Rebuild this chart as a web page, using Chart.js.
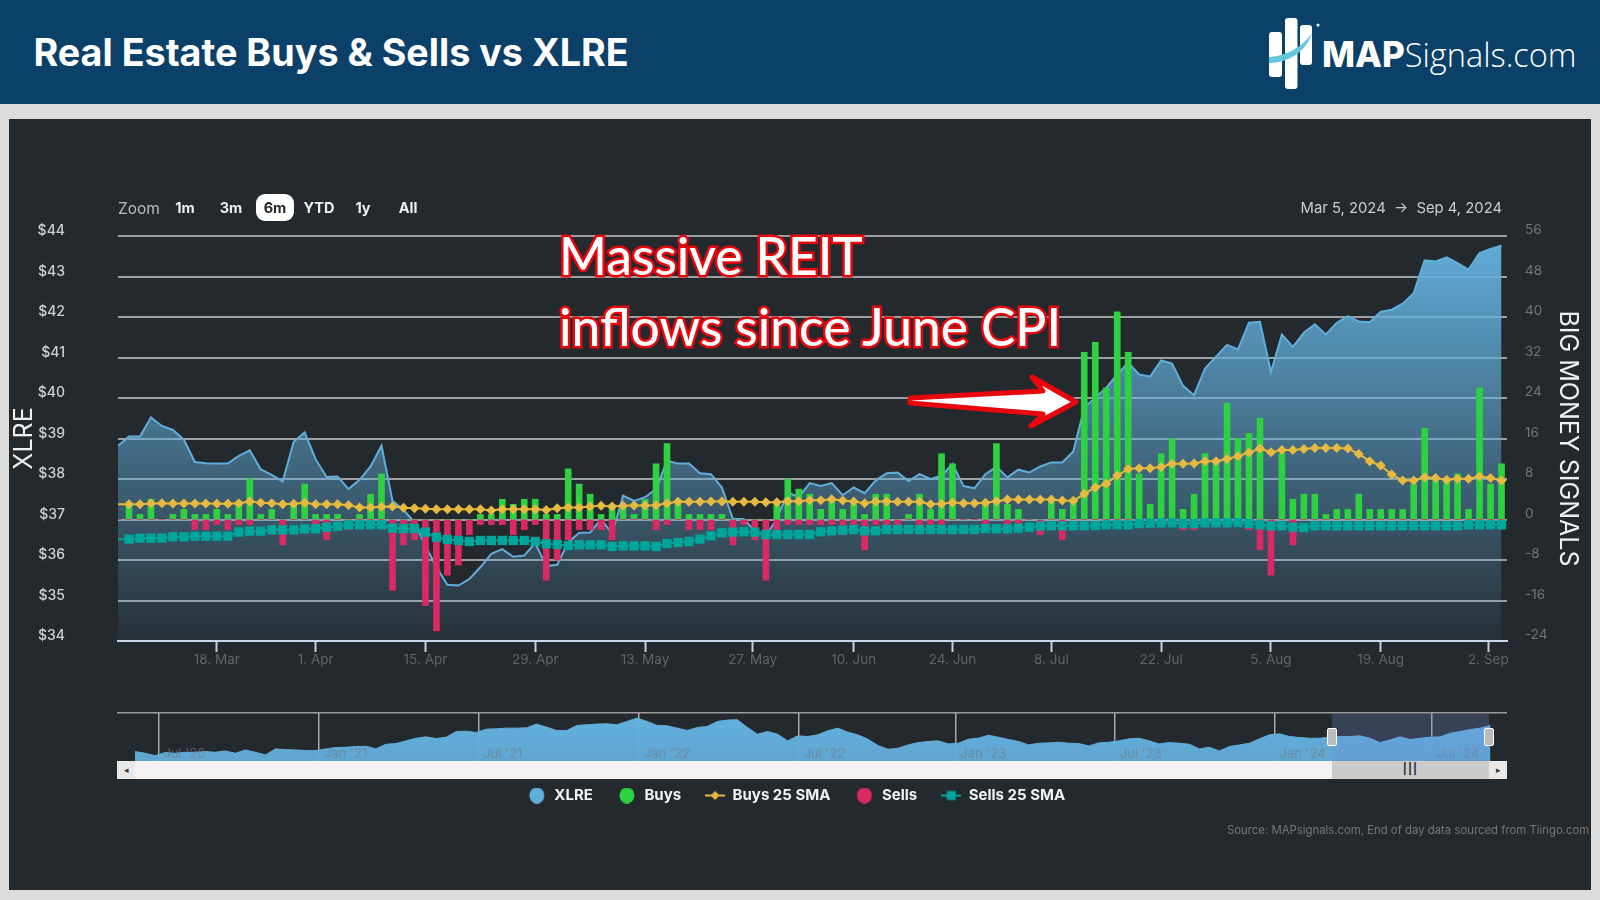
<!DOCTYPE html>
<html><head><meta charset="utf-8">
<script src="https://cdn.jsdelivr.net/npm/chart.js@4"></script>
<style>
html,body{margin:0;padding:0;background:#dcdcdc;width:1600px;height:900px;overflow:hidden;font-family:Inter,sans-serif}
.abs{position:absolute}
#hdr{left:0;top:0;width:1600px;height:104px;background:#0b4069}
#ttl{left:33.5px;top:29px;font:700 37.7px Inter;color:#fff;white-space:nowrap}
#panel{left:9px;top:119px;width:1582px;height:771px;background:#24292e}
canvas{position:absolute;left:0}
.z{top:199px;font:700 14.5px Inter;color:#eee;transform:translateX(-50%);white-space:nowrap}
.ann{left:559px;font:500 51.5px Lato;color:#fff;white-space:nowrap;-webkit-text-stroke:5px #e8070d;paint-order:stroke fill}
</style></head><body>
<div class="abs" id="hdr"></div>
<div class="abs" id="ttl">Real Estate Buys &amp; Sells vs XLRE</div>
<svg class="abs" style="left:1260px;top:10px" width="70" height="84" viewBox="1260 10 70 84">
<rect x="1269" y="32" width="13" height="45" rx="3" fill="#fff"/><rect x="1285" y="18" width="12.5" height="71" rx="3" fill="#fff"/><rect x="1300" y="25" width="12" height="40" rx="3" fill="#fff"/>
<path d="M1269 57C1285 56 1302 48 1312 33C1306 52 1288 63 1269 63Z" fill="#62c6dc"/><circle cx="1318" cy="25" r="1.6" fill="#fff"/></svg>
<div class="abs" style="left:1322px;top:32px;font:800 35px Inter;color:#fff;white-space:nowrap">MAP<span style="font:300 32.5px 'Open Sans';margin-left:0">Signals.com</span></div>
<div class="abs" id="panel"></div>
<canvas id="main" width="1600" height="813" style="top:0;width:1600px;height:813px"></canvas>
<canvas id="nav" width="1600" height="61" style="top:700px;width:1600px;height:61px"></canvas>
<div class="abs" id="navsel" style="left:1332px;top:714px;width:157px;height:47px;background:rgba(110,140,215,.25)"></div>
<div class="abs" style="left:117px;top:761px;width:1390px;height:18px;background:#f2f2f2"></div>
<div class="abs" style="left:117px;top:761px;width:18px;height:18px;background:#e8e8e8;text-align:center;font:9px/18px sans-serif;color:#333">◂</div>
<div class="abs" style="left:1332px;top:761px;width:157px;height:18px;background:#cbcbcb;text-align:center;font:700 11px/17px Inter;color:#333;letter-spacing:1px">|||</div>
<div class="abs" style="left:1489px;top:761px;width:18px;height:18px;background:#e8e8e8;text-align:center;font:9px/18px sans-serif;color:#333">▸</div>
<div class="abs" style="left:1327px;top:728px;width:8px;height:16px;background:#bbb;border:1.5px solid #fff;border-radius:2px"></div>
<div class="abs" style="left:1484px;top:728px;width:8px;height:16px;background:#bbb;border:1.5px solid #fff;border-radius:2px"></div>
<div class="abs" style="left:118px;top:199px;font:400 15.5px Inter;color:#bbb">Zoom</div>
<div class="abs" style="left:256px;top:194px;width:38px;height:27px;background:#fff;border-radius:9px"></div>
<div class="abs z" style="left:185px">1m</div><div class="abs z" style="left:231px">3m</div>
<div class="abs z" style="left:275px;color:#24292e">6m</div><div class="abs z" style="left:319px">YTD</div>
<div class="abs z" style="left:363px">1y</div><div class="abs z" style="left:408px">All</div>
<div class="abs" style="left:1290px;top:199px;width:212px;text-align:right;font:400 14.8px Inter;color:#ccc;white-space:nowrap">Mar 5, 2024 &nbsp;→&nbsp; Sep 4, 2024</div>
<div class="abs ann" style="top:224px">Massive REIT</div>
<div class="abs ann" style="top:295px">inflows since June CPI</div>
<svg class="abs" style="left:0;top:0" width="1600" height="900" pointer-events="none">
<polygon points="910,398 1043,391 1032,377 1076,402 1031,426 1043,414 910,403" fill="#fff" stroke="#e8070d" stroke-width="5" stroke-linejoin="round"/></svg>
<div class="abs" style="left:1227px;top:823px;width:362px;text-align:right;font:400 11.35px Inter;color:#777;white-space:nowrap">Source: MAPsignals.com, End of day data sourced from Tiingo.com</div>
<script>
const tickLabels=["18. Mar","1. Apr","15. Apr","29. Apr","13. May","27. May","10. Jun","24. Jun","8. Jul","22. Jul","5. Aug","19. Aug","2. Sep"];
const tickPositions=[9,18,28,38,48,57.8,67,76,85,95,105,115,124.8];
const xlre=[38.82,39.05,39.05,39.52,39.31,39.21,38.97,38.42,38.39,38.38,38.38,38.57,38.71,38.24,38.10,37.94,38.92,39.15,38.49,38.05,38.06,37.75,37.98,38.31,38.82,37.46,37.24,36.93,36.35,35.82,35.39,35.37,35.53,35.82,36.15,36.27,36.08,36.11,36.42,35.85,
35.88,36.44,36.67,36.68,37.01,36.65,37.59,37.46,37.55,37.75,38.45,38.38,38.38,38.14,38.12,37.79,37.01,37.01,36.72,36.6,37.01,37.67,37.55,37.90,37.83,37.90,37.60,37.79,37.65,37.96,38.14,38.16,37.95,38.12,38.0,38.08,38.37,37.83,37.77,38.12,
38.3,38.04,38.23,38.16,38.31,38.41,38.41,38.68,39.76,40.01,40.25,40.58,40.87,40.58,40.53,40.93,40.85,40.30,40.07,40.73,41.02,41.31,41.20,41.86,41.88,40.64,41.57,41.26,41.61,41.82,41.57,41.86,42.02,41.89,41.87,42.13,42.18,42.33,42.59,43.40,43.37,43.47,43.33,43.17,43.58,43.68,43.76];
const buys=[0,3,1,4,0,1,2,1,1,2,1,3,8,1,2,0,3,7,1,1,1,0,1,5,9,0,0,0,0,0,0,0,0,1,1,4,3,4,4,1,
1,10,7,5,1,3,3,1,4,11,15,3,1,1,1,1,0,0,0,0,3,8,6,5,2,4,2,3,1,5,5,0,1,5,2,13,11,0,0,3,
15,3,2,0,0,4,2,4,33,35,26,41,33,9,3,13,16,2,5,13,11,23,16,17,20,0,13,4,5,5,1,2,2,5,2,2,2,2,7,18,8,8,9,2,26,7,11];
const sells=[0,0,0,0,0,0,0,-2,-2,-1,-2,-1,-1,0,0,-5,0,0,-1,-4,0,-2,0,0,0,-14,-5,-4,-17,-22,-11,-9,-3,-1,-1,-1,-3,-2,-1,-12,
-8,-4,-2,-2,-2,-4,0,0,0,-2,-1,0,-2,-2,-2,0,-5,-1,-4,-12,-2,-1,-1,-1,-1,-1,-3,-1,-6,-1,-1,-1,0,-1,-1,-1,0,0,0,-1,
0,-1,-1,0,-3,0,-4,0,0,0,0,0,0,0,0,0,0,-2,-2,0,0,0,0,-2,-6,-11,0,-5,0,0,0,0,0,0,0,0,0,0,0,0,0,0,0,0,0,0,0];
const buysSma=[3.03,3.03,3.03,3.16,3.22,3.16,3.16,3.16,3.16,3.09,3.09,3.22,3.55,3.29,3.22,3.03,3.09,3.29,3.03,3.03,3.03,2.83,2.37,2.37,2.5,2.57,2.3,2.24,2.1,2.04,2.04,2.04,2.04,2.04,1.78,2.04,2.04,2.04,2.04,1.9,
2.24,2.37,2.37,2.57,2.7,2.57,2.7,2.76,2.76,2.83,3.22,3.49,3.49,3.49,3.55,3.55,3.49,3.49,3.49,3.42,3.42,3.62,3.62,3.82,3.82,4.01,3.75,3.55,3.22,3.55,3.55,3.49,3.49,3.49,3.03,3.09,3.36,3.22,3.22,3.29,
3.6,3.95,3.95,3.95,3.95,3.95,3.75,3.68,5.07,6.32,7.04,8.68,10.0,10.13,10.13,10.39,10.99,10.99,11.05,11.5,11.5,11.97,12.5,13.22,14.01,13.29,13.75,13.75,13.95,14.14,14.14,14.14,14.01,12.96,11.5,10.66,8.88,7.7,7.7,8.36,8.22,7.83,8.03,8.03,8.49,8.22,7.7];
const sellsSma=[-3.88,-3.88,-3.68,-3.68,-3.68,-3.42,-3.42,-3.29,-3.29,-3.29,-3.29,-2.5,-2.3,-2.3,-2.04,-2.04,-2.04,-1.84,-1.84,-1.51,-1.32,-1.05,-1.05,-1.05,-1.05,-1.71,-1.78,-1.78,-2.5,-3.49,-3.95,-4.14,-4.34,-4.14,-4.14,-4.14,-4.14,-4.14,-4.34,-4.8,
-4.93,-5.13,-5.0,-5.0,-5.0,-5.33,-5.2,-5.2,-5.2,-5.33,-4.74,-4.54,-4.34,-3.88,-3.22,-2.63,-2.5,-2.43,-2.5,-2.96,-2.96,-2.96,-2.96,-2.96,-2.43,-2.24,-2.1,-1.97,-2.24,-2.24,-1.97,-1.97,-1.97,-1.97,-1.97,-1.97,-1.97,-1.97,-1.97,-1.78,
-1.84,-1.84,-1.7,-1.5,-1.3,-1.25,-1.25,-1.25,-1.25,-1.2,-1.05,-1.05,-1.05,-0.8,-0.72,-0.66,-0.66,-0.8,-0.8,-0.66,-0.66,-0.66,-0.6,-0.8,-1.05,-1.25,-1.25,-1.5,-1.58,-1.25,-1.25,-1.25,-1.25,-1.25,-1.25,-1.25,-1.25,-1.25,-1.25,-1.25,-1.25,-1.25,-1.25,-1.05,-1.05,-1.05,-1.05];
const navPrice=[29.85,28.99,27.77,29.33,28.99,29.51,29.51,29.85,29.51,30.20,28.99,30.72,29.51,28.12,31.24,30.89,30.72,30.37,30.37,31.24,31.93,32.11,32.45,32.63,31.24,33.67,34.01,35.40,36.78,37.48,36.61,37.30,40.25,40.42,39.73,41.46,41.64,41.98,41.98,42.16,44.06,42.50,40.77,40.77,43.37,43.72,
44.06,44.24,43.72,45.45,47.18,45.45,43.37,43.20,41.98,40.77,42.33,42.85,45.45,46.14,46.32,42.33,38.86,40.25,38.86,35.40,38.00,37.65,38.52,40.60,41.98,39.90,38.52,36.26,32.97,31.07,31.59,33.32,34.53,35.05,35.40,33.84,34.18,36.26,36.78,38.34,37.30,36.09,35.05,33.32,34.18,34.36,
34.70,34.18,34.01,32.80,34.36,34.70,35.40,36.44,36.78,35.40,33.84,34.53,34.18,33.67,31.24,32.11,30.20,32.45,33.32,34.18,36.44,38.52,39.04,37.65,37.13,36.78,36.78,37.30,37.65,37.65,38.00,36.78,34.53,35.92,37.48,36.09,36.78,37.30,37.48,39.38,40.25,41.29,41.98,43.37];
const navTickLabels=["Jul '20","Jan '21","Jul '21","Jan '22","Jul '22","Jan '23","Jul '23","Jan '24","Jul '24"];
const navTickPositions=[2.34,18.33,34.2,50.2,66.1,81.7,97.6,113.5,129.2];

const BLUE='#62aedb',GREEN='#2ed13f',PINK='#d92a63',YEL='#e6b93f',TEAL='#00a59b';
function icon(draw){const c=document.createElement('canvas');c.width=20;c.height=16;draw(c.getContext('2d'));return c;}
const circ=col=>icon(g=>{g.fillStyle=col;g.beginPath();g.ellipse(10,8,7.5,8,0,0,7);g.fill();});
const iconYel=icon(g=>{g.fillStyle=YEL;g.fillRect(0,7,20,2);g.beginPath();g.moveTo(10,3.5);g.lineTo(14.5,8);g.lineTo(10,12.5);g.lineTo(5.5,8);g.fill();});
const iconTeal=icon(g=>{g.fillStyle=TEAL;g.fillRect(0,7,20,2);g.fillRect(5.5,3.5,9,9);});
const legendIcons=[circ(BLUE),circ(GREEN),iconYel,circ(PINK),iconTeal];
const toXY=a=>a.map((v,i)=>({x:i,y:v}));
const xlreFill=c=>{const a=c.chart.chartArea;if(!a)return 'transparent';const g=c.chart.ctx.createLinearGradient(0,a.top,0,a.bottom);g.addColorStop(0,'rgba(98,174,219,1)');g.addColorStop(1,'rgba(98,174,219,.05)');return g;};

new Chart(document.getElementById('main'),{type:'bar',
 data:{datasets:[
  {type:'line',label:'XLRE',data:toXY(xlre),yAxisID:'yL',borderColor:BLUE,borderWidth:2,backgroundColor:xlreFill,fill:'start',pointRadius:0,tension:0,order:5},
  {type:'bar',label:'Buys',data:toXY(buys),yAxisID:'yR',backgroundColor:GREEN,barThickness:6,grouped:false,order:4},
  {type:'line',label:'Buys 25 SMA',data:toXY(buysSma),yAxisID:'yR',borderColor:YEL,backgroundColor:YEL,borderWidth:2,pointStyle:'rectRot',pointRadius:c=>c.dataIndex===0?0:5,pointBorderWidth:0,tension:0,order:2},
  {type:'bar',label:'Sells',data:toXY(sells),yAxisID:'yR',backgroundColor:PINK,barThickness:6,grouped:false,order:3},
  {type:'line',label:'Sells 25 SMA',data:toXY(sellsSma),yAxisID:'yR',borderColor:TEAL,backgroundColor:TEAL,borderWidth:2,pointStyle:'rect',pointRadius:c=>c.dataIndex===0?0:6.6,pointBorderWidth:0,tension:0,order:1}
 ]},
 options:{responsive:false,maintainAspectRatio:false,animation:false,events:[],
  layout:{padding:{left:9,right:17,top:236,bottom:0}},
  plugins:{tooltip:{enabled:false},
   legend:{display:true,position:'bottom',labels:{usePointStyle:true,pointStyleWidth:20,padding:24,color:'#f2f2f2',font:{family:'Inter',weight:'700',size:15},
     generateLabels:ch=>ch.data.datasets.map((d,i)=>({text:d.label,datasetIndex:i,pointStyle:legendIcons[i],fontColor:'#f2f2f2',lineWidth:0,hidden:false}))}}},
  scales:{
   x:{type:'linear',offset:false,min:0,max:126.5,
     afterBuildTicks:s=>{s.ticks=tickPositions.map(v=>({value:v}));},
     afterFit:s=>{s.height=123;},
     grid:{offset:false,drawOnChartArea:false,drawTicks:true,tickLength:11,tickWidth:2,tickColor:'#c4cedc'},
     border:{color:'#ccd6eb',width:2},
     ticks:{autoSkip:false,maxRotation:0,padding:0,color:'#5f6569',font:{family:'Inter',size:13.5},callback:v=>tickLabels[tickPositions.indexOf(v)]}},
   yL:{position:'left',min:34,max:44,afterFit:s=>{s.width=109;},
     afterBuildTicks:s=>{s.ticks=s.ticks.filter(t=>Number.isInteger(t.value));},
     grid:{color:'rgba(205,205,205,.72)',lineWidth:2,drawTicks:false},border:{display:false},
     title:{display:true,text:'XLRE',color:'#f0f0f0',font:{family:'Inter',size:25},padding:{top:0,bottom:0}},
     ticks:{stepSize:1,padding:53,labelOffset:-5,color:'#cfd2d4',font:{family:'Inter',size:14,weight:'500'},callback:v=>'$'+v}},
   yR:{position:'right',min:-24,max:56,afterFit:s=>{s.width=76;},
     grid:{drawOnChartArea:false,drawTicks:false},border:{display:false},
     title:{display:true,text:'BIG MONEY SIGNALS',color:'#f0f0f0',font:{family:'Inter',size:25},padding:{top:0,bottom:0}},
     ticks:{stepSize:8,padding:18,labelOffset:-6,color:'#70767a',font:{family:'Inter',size:13.5}}}
  }}});

const navFill=c=>{const a=c.chart.chartArea;if(!a)return 'transparent';const g=c.chart.ctx.createLinearGradient(0,a.top,0,a.bottom);g.addColorStop(0,'rgba(100,182,230,.97)');g.addColorStop(1,'rgba(98,170,214,.97)');return g;};
new Chart(document.getElementById('nav'),{type:'line',
 data:{datasets:[{label:'XLRE navigator',data:toXY(navPrice),borderColor:BLUE,borderWidth:1,backgroundColor:navFill,fill:'start',pointRadius:0,tension:0}]},
 options:{responsive:false,maintainAspectRatio:false,animation:false,events:[],
  layout:{padding:{left:0,right:93,top:13,bottom:0}},
  plugins:{legend:{display:false},tooltip:{enabled:false}},
  scales:{
   x:{type:'linear',offset:false,min:-1.79,max:136.65,afterFit:s=>{s.height=0;},
     afterBuildTicks:s=>{s.ticks=navTickPositions.map(v=>({value:v}));},
     grid:{offset:false,color:'rgba(190,190,190,.85)',lineWidth:1.5,drawTicks:false},border:{display:false},
     ticks:{autoSkip:false,maxRotation:0,align:'start',mirror:true,z:2,padding:-1,labelOffset:5,color:'rgba(120,125,130,.65)',font:{family:'Inter',size:13},callback:v=>navTickLabels[navTickPositions.indexOf(v)]}},
   y:{min:25,max:49.8,afterFit:s=>{s.width=117;},
     afterBuildTicks:s=>{s.ticks=[{value:49.8}];},
     grid:{color:'rgba(175,175,175,.85)',lineWidth:1.5,drawTicks:false},border:{display:false},
     ticks:{display:false}}
  }}});
</script>
</body></html>
